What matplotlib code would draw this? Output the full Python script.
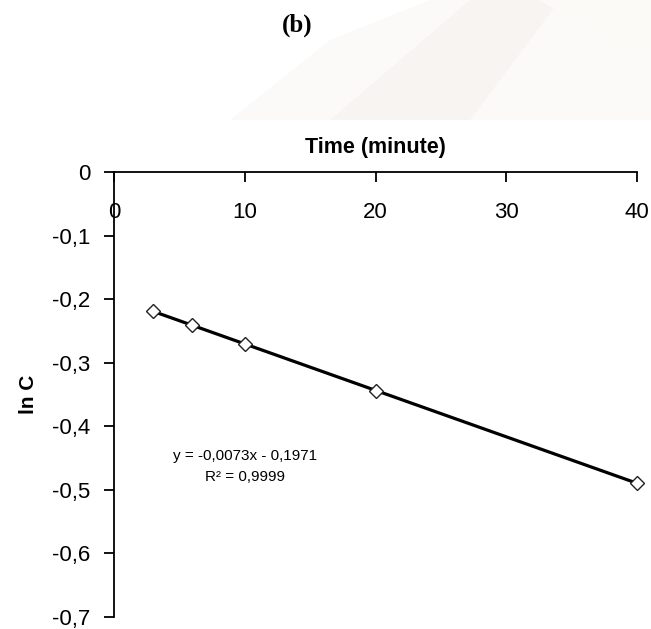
import numpy as np
import matplotlib
matplotlib.use('Agg')
from matplotlib import pyplot as plt
from matplotlib.ticker import FuncFormatter
from matplotlib.patches import Polygon

time_min = [3, 6, 10, 20, 40]
ln_c = [-0.219, -0.241, -0.270, -0.345, -0.489]
y_ticks = [0, -0.1, -0.2, -0.3, -0.4, -0.5, -0.6, -0.7]
x_ticks = [0, 10, 20, 30, 40]

plt.rcParams['font.family'] = ['Liberation Sans', 'DejaVu Sans']

fig = plt.figure(figsize=(6.51, 6.29), dpi=100)

# faint watermark behind the caption
W, H = 651, 629
shapes = [
    ([(230, 120), (330, 40), (430, 0), (651, 0), (651, 120)], '#fcfaf8'),
    ([(330, 120), (470, 0), (560, 0), (470, 120)], '#f8f4f2'),
    ([(540, 0), (651, 0), (651, 60), (600, 40)], '#fcfaf6'),
]
for pts, col in shapes:
    fig.patches.append(Polygon([(x / W, 1 - y / H) for x, y in pts], closed=True,
                               transform=fig.transFigure, facecolor=col,
                               edgecolor='none', zorder=0))

ax = fig.add_axes([114 / 651, 1 - 617 / 629, (637 - 114) / 651, (617 - 172) / 629])
ax.patch.set_alpha(0)

# linear trendline
slope, icpt = np.polyfit(time_min, ln_c, 1)
xs = np.array([time_min[0], time_min[-1]])
ax.plot(xs, slope * xs + icpt, color='black', lw=2.3, zorder=2)
ax.plot(time_min, ln_c, linestyle='none', marker='D', markersize=7.5,
        markerfacecolor='white', markeredgecolor='#222222', markeredgewidth=1,
        zorder=3, clip_on=False)

ax.set_xlim(0, 40)
ax.set_ylim(-0.7, 0)
ax.set_xticks(x_ticks)
ax.set_yticks(y_ticks)

ax.spines['right'].set_visible(False)
ax.spines['bottom'].set_visible(False)
ax.spines['top'].set_linewidth(1.3)
ax.spines['left'].set_linewidth(1.3)

ax.xaxis.set_ticks_position('top')
ax.tick_params(axis='x', direction='in', length=7, width=1.3, labelsize=16,
               top=True, bottom=False, labeltop=True, labelbottom=False, pad=-37)
ax.tick_params(axis='y', direction='out', length=7, width=1.3, labelsize=16, pad=10)

ax.yaxis.set_major_formatter(FuncFormatter(lambda v, p: ('%g' % round(v, 1)).replace('.', ',') if v != 0 else '0'))

ax.xaxis.set_label_position('top')
ax.set_xlabel('Time (minute)', fontsize=15.5, fontweight='bold', labelpad=14)
ax.set_ylabel('ln C', fontsize=15, fontweight='bold', labelpad=10)

ax.text(10, -0.447, 'y = -0,0073x - 0,1971', fontsize=11, ha='center', va='center')
ax.text(10, -0.479, 'R² = 0,9999', fontsize=11, ha='center', va='center')

fig.text(297 / 651, 1 - 25 / 629, '(b)', fontsize=18, fontweight='bold',
         family='Liberation Serif', ha='center', va='center')

fig.savefig('out.png', dpi=100)
